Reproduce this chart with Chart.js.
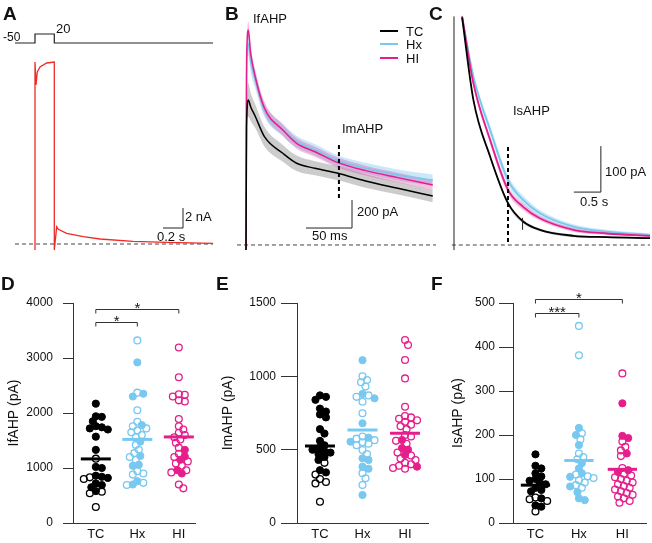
<!DOCTYPE html>
<html>
<head>
<meta charset="utf-8">
<script src="https://cdn.jsdelivr.net/npm/chart.js@4.4.1/dist/chart.umd.min.js"></script>
<style>
html, body { margin: 0; padding: 0; background: #fff; }
#fig { position: relative; width: 652px; height: 543px; overflow: hidden; font-family: "Liberation Sans", Arial, Helvetica, sans-serif; color: #111; }
#fig canvas { position: absolute; left: 0; top: 0; pointer-events: none; }
.t { position: absolute; line-height: 1; white-space: nowrap; transform: translateY(-50%); font-size: 13px; }
.p { font-weight: bold; font-size: 19px; }
.sw { position: absolute; height: 2px; width: 18px; }
</style>
</head>
<body>
<div id="fig">
  <canvas id="cAv" width="652" height="543"></canvas>
  <canvas id="cAi" width="652" height="543"></canvas>
  <canvas id="cB" width="652" height="543"></canvas>
  <canvas id="cC" width="652" height="543"></canvas>
  <canvas id="cD" width="652" height="543"></canvas>
  <canvas id="cE" width="652" height="543"></canvas>
  <canvas id="cF" width="652" height="543"></canvas>

  <div class="t p" style="left:3px;top:13px">A</div>
  <div class="t p" style="left:225px;top:13px">B</div>
  <div class="t p" style="left:429px;top:13px">C</div>
  <div class="t p" style="left:1px;top:283px">D</div>
  <div class="t p" style="left:216px;top:283px">E</div>
  <div class="t p" style="left:431px;top:283px">F</div>

  <div class="t" style="left:3px;top:37px;font-size:12px">-50</div>
  <div class="t" style="left:56px;top:28px">20</div>
  <div class="t" style="left:185px;top:216px">2 nA</div>
  <div class="t" style="left:157px;top:236px">0.2 s</div>

  <div class="t" style="left:253px;top:18px">IfAHP</div>
  <div class="sw" style="left:380px;top:30px;background:#000"></div>
  <div class="sw" style="left:380px;top:43px;background:#78c8f0"></div>
  <div class="sw" style="left:380px;top:57px;background:#e61e8c"></div>
  <div class="t" style="left:406px;top:31px">TC</div>
  <div class="t" style="left:406px;top:44px">Hx</div>
  <div class="t" style="left:406px;top:58px">HI</div>
  <div class="t" style="left:342px;top:128px">ImAHP</div>
  <div class="t" style="left:357px;top:211px">200 pA</div>
  <div class="t" style="left:312px;top:235px">50 ms</div>

  <div class="t" style="left:513px;top:110px">IsAHP</div>
  <div class="t" style="left:605px;top:171px">100 pA</div>
  <div class="t" style="left:580px;top:201px">0.5 s</div>
</div>
<script>
// ---- data ----
const groups = ['TC', 'Hx', 'HI'];

// A: command step (mV) and evoked current (nA), time in s
const stepTime = [0, 0.2, 0.2, 0.393, 0.393, 1.98];
const stepMv = [-50, -50, 20, 20, -50, -50];
const traceTime = [0.2, 0.2, 0.21, 0.223, 0.25, 0.317, 0.393, 0.393, 0.417, 0.433, 0.517, 0.683, 0.85, 1.18, 1.517, 1.98];
const traceNa = [-0.6, 18.2, 15.9, 17.2, 17.7, 18.1, 18.2, -0.6, 1.73, 1.47, 1.07, 0.73, 0.5, 0.27, 0.17, 0.07];

// B: average fast/medium AHP currents (pA), time in ms
const bTime = [0, 0.6, 2.5, 5, 10, 20, 40, 55, 75, 100, 130, 165, 203];
const bTC = [-36, 850, 1036, 988, 920, 774, 655, 584, 548, 512, 457, 405, 350];
const bHx = [-36, 1200, 1441, 1309, 1179, 964, 821, 738, 679, 600, 548, 500, 464];
const bHI = [-36, 1300, 1536, 1371, 1202, 979, 821, 726, 666, 588, 531, 481, 429];
const bTCsem = [0, 0, 120, 100, 85, 70, 60, 55, 50, 50, 48, 45, 45];
const bHxSem = [0, 0, 90, 75, 60, 50, 45, 42, 40, 40, 40, 40, 40];
const bHIsem = [0, 0, 60, 55, 50, 45, 40, 38, 36, 36, 35, 35, 35];

// C: average slow AHP currents (pA), time in s
const cTime = [0.15, 0.36, 0.67, 1.0, 1.28, 1.59, 2.21, 2.83, 3.63];
const cTC = [495, 315, 192, 91, 51, 33, 20, 17, 15];
const cHx = [497, 366, 250, 141, 98, 69, 40, 29, 22];
const cHI = [497, 351, 228, 120, 83, 58, 33, 25, 20];
const cTCsem = [3, 3, 4, 5, 4, 3, 3, 2, 2];
const cHxSem = [8, 8, 10, 10, 9, 7, 5, 4, 3];
const cHIsem = [6, 6, 8, 8, 7, 5, 4, 3, 3];

// D: IfAHP (pA)
const dTCFilled = [2170, 1940, 1930, 1850, 1760, 1740, 1720, 1700, 1570, 1330, 1020, 1000, 860, 840, 820, 720, 690, 650, 580];
const dTCOpen = [1170, 830, 800, 570, 540, 290];
const dHxFilled = [2920, 2350, 2300, 1780, 1480, 1220, 1060, 1040, 760, 700];
const dHxOpen = [3320, 2370, 2050, 1840, 1760, 1720, 1680, 1650, 1600, 1560, 1420, 1330, 1270, 1200, 1150, 940, 900, 880, 730, 690];
const dHIFilled = [1330, 1210, 1150, 960, 900];
const dHIOpen = [3190, 2650, 2340, 2330, 2300, 2230, 2210, 1890, 1760, 1700, 1640, 1600, 1560, 1520, 1460, 1370, 1260, 1200, 1120, 1080, 1040, 960, 920, 700, 630];
const dMeans = [1165, 1520, 1565];

// E: ImAHP (pA)
const eTCFilled = [870, 860, 840, 780, 760, 740, 720, 640, 610, 560, 530, 510, 500, 490, 480, 470, 450, 430, 360, 345];
const eTCOpen = [410, 330, 300, 280, 270, 145];
const eHxFilled = [1110, 880, 850, 680, 582, 554, 441, 430, 384, 370, 191];
const eHxOpen = [1000, 975, 960, 930, 870, 860, 827, 748, 590, 575, 565, 550, 540, 530, 498, 470, 340, 305, 259];
const eHIFilled = [566, 511, 500, 464, 384];
const eHIOpen = [1248, 1214, 1111, 986, 793, 730, 720, 710, 700, 690, 670, 660, 640, 600, 590, 560, 540, 480, 460, 440, 430, 410, 400, 390, 375, 370];
const eMeans = [525, 634, 612];

// F: IsAHP (pA)
const fTCFilled = [156, 130, 124, 113, 106, 100, 96, 92, 88, 80, 75, 72, 56, 40, 37];
const fTCOpen = [58, 54, 50, 26];
const fHxFilled = [216, 200, 177, 136, 124, 113, 105, 83, 70, 56, 52];
const fHxOpen = [448, 381, 204, 190, 158, 150, 145, 110, 106, 102, 97, 92, 86, 80];
const fHIFilled = [272, 198, 193, 158, 120, 116];
const fHIOpen = [340, 185, 173, 165, 152, 125, 112, 108, 104, 100, 96, 92, 88, 84, 80, 76, 72, 68, 64, 60, 56, 50, 46];
const fMeans = [86, 142, 122];

// ---- styling and helpers ----
const W = 652, H = 543;
const colors = ['#000000', '#78c8f0', '#e61e8c'];
const bands = ['rgba(110,110,110,0.35)', 'rgba(120,200,240,0.4)', 'rgba(230,30,140,0.28)'];

Chart.defaults.font.family = '"Liberation Sans", Arial, Helvetica, sans-serif';
Chart.defaults.color = '#111';
Chart.defaults.animation = false;
Chart.defaults.responsive = false;
Chart.defaults.events = [];
Chart.defaults.plugins.legend.display = false;
Chart.defaults.plugins.tooltip.enabled = false;

function xy(xs, ys) { return xs.map((x, i) => ({ x: x, y: ys[i] })); }

// layout padding that makes the chart area exactly [l..r] x [t..b]
function areaPad(l, t, r, b) { return { left: l, top: t, right: W - r, bottom: H - b }; }

function hiddenScales(xmin, xmax, ymin, ymax) {
    return {
        x: { type: 'linear', display: false, min: xmin, max: xmax },
        y: { type: 'linear', display: false, min: ymin, max: ymax }
    };
}

function line(points, color, width, extra) {
    return Object.assign({
        type: 'line', data: points, borderColor: color, borderWidth: width,
        pointRadius: 0, tension: 0, fill: false, clip: false
    }, extra || {});
}

function band(xs, mean, sem, color) {
    return [
        line(xy(xs, mean.map((m, i) => m + sem[i])), 'rgba(0,0,0,0)', 0, { cubicInterpolationMode: 'monotone', clip: true }),
        line(xy(xs, mean.map((m, i) => m - sem[i])), 'rgba(0,0,0,0)', 0, { cubicInterpolationMode: 'monotone', clip: true, fill: '-1', backgroundColor: color })
    ];
}

// first item in list is drawn at the bottom
function stack(list) { list.forEach((d, i) => { d.order = list.length - i; }); return list; }

const dashed = { borderDash: [4, 3] };

// ---- A ----
new Chart(document.getElementById('cAv'), {
    type: 'line',
    data: { datasets: stack([line(xy(stepTime, stepMv), '#222', 1.2)]) },
    options: { layout: { padding: areaPad(15, 34, 213, 43) }, scales: hiddenScales(0, 1.98, -50, 20) }
});

const aBarT = [1.48, 1.68, 1.68], aBarV = [1.6, 1.6, 3.6];
new Chart(document.getElementById('cAi'), {
    type: 'line',
    data: { datasets: stack([
        line(xy([0, 1.98], [0, 0]), '#444', 1, dashed),
        line(xy(traceTime, traceNa), '#ee2b25', 1.3),
        line(xy(aBarT, aBarV), '#222', 1)
    ]) },
    options: { layout: { padding: areaPad(15, 60, 213, 250) }, scales: hiddenScales(0, 1.98, -0.6, 18.4) }
});

// ---- B ----
const curve = { cubicInterpolationMode: 'monotone', clip: true };
const bBarT = [65.2, 115.2, 115.2], bBarV = [121, 121, 321];
new Chart(document.getElementById('cB'), {
    type: 'line',
    data: { datasets: stack([
        line(xy([-9.8, 206.5], [0, 0]), '#444', 1, dashed),
        ...band(bTime, bTC, bTCsem, bands[0]),
        ...band(bTime, bHx, bHxSem, bands[1]),
        ...band(bTime, bHI, bHIsem, bands[2]),
        line(xy(bTime, bHx), colors[1], 1.5, curve),
        line(xy(bTime, bHI), colors[2], 1.5, curve),
        line(xy(bTime, bTC), colors[0], 1.5, curve),
        line(xy([101, 101], [336, 729]), '#000', 2, dashed),
        line(xy(bBarT, bBarV), '#222', 1)
    ]) },
    options: { layout: { padding: areaPad(237, 15, 436, 250) }, scales: hiddenScales(-9.8, 206.5, -36, 1643) }
});

// ---- C ----
const cBarT = [2.22, 2.72, 2.72], cBarV = [115, 115, 215];
new Chart(document.getElementById('cC'), {
    type: 'line',
    data: { datasets: stack([
        line(xy([-0.04, 3.63], [0, 0]), '#444', 1, dashed),
        line(xy([0, 0], [-10.9, 497]), '#222', 1),
        ...band(cTime, cTC, cTCsem, bands[0]),
        ...band(cTime, cHx, cHxSem, bands[1]),
        ...band(cTime, cHI, cHIsem, bands[2]),
        line(xy(cTime, cHx), colors[1], 1.8, curve),
        line(xy(cTime, cHI), colors[2], 1.8, curve),
        line(xy(cTime, cTC), colors[0], 1.8, curve),
        line(xy([1.27, 1.27], [33, 59]), '#222', 1),
        line(xy([1.0, 1.0], [6.5, 217]), '#000', 2, dashed),
        line(xy(cBarT, cBarV), '#222', 1)
    ]) },
    options: { layout: { padding: areaPad(450, 15, 650, 250) }, scales: hiddenScales(-0.074, 3.63, -10.9, 500) }
});

// ---- D / E / F scatter panels ----
const GAP = 5.5;   // px between point centres in the swarm

function swarm(filled, open, center, pxX, pxY) {
    const pts = filled.map(v => ({ v: v, f: true })).concat(open.map(v => ({ v: v, f: false })));
    pts.sort((a, b) => b.v - a.v);
    const placed = [];
    const out = { filled: [], open: [] };
    pts.forEach(p => {
        const py = p.v * pxY;
        let off = 0;
        for (let k = 0; k < 80; k++) {
            const o = k === 0 ? 0 : (k % 2 ? 1 : -1) * Math.ceil(k / 2) * 1.5;
            if (placed.every(q => Math.hypot(o - q.o, py - q.py) >= GAP)) { off = o; break; }
        }
        placed.push({ o: off, py: py });
        (p.f ? out.filled : out.open).push({ x: center + off / pxX, y: p.v });
    });
    return out;
}

const bracketPlugin = {
    id: 'brackets',
    afterDatasetsDraw(chart, args, opts) {
        if (!opts.items) return;
        const ctx = chart.ctx, sx = chart.scales.x, sy = chart.scales.y;
        ctx.save();
        ctx.strokeStyle = '#333';
        ctx.lineWidth = 1;
        ctx.fillStyle = '#111';
        ctx.font = '15px "Liberation Sans", Arial, sans-serif';
        ctx.textAlign = 'center';
        opts.items.forEach(b => {
            const x1 = sx.getPixelForValue(b.from), x2 = sx.getPixelForValue(b.to);
            const py = Math.round(sy.getPixelForValue(b.at)) + 0.5;
            ctx.beginPath();
            ctx.moveTo(x1, py + 4); ctx.lineTo(x1, py); ctx.lineTo(x2, py); ctx.lineTo(x2, py + 4);
            ctx.stroke();
            ctx.fillText(b.label, (x1 + x2) / 2, py + 3);
        });
        ctx.restore();
    }
};

function scatterPanel(id, p) {
    const areaTop = 303, areaBottom = 523;
    const pxX = (p.right - p.axisX) / (p.xmax - p.xmin);
    const pxY = (areaBottom - areaTop) / p.ymax;
    const hw = 15 / pxX;
    const sets = [];
    for (let g = 0; g < 3; g++) {
        const s = swarm(p.filled[g], p.open[g], g + 1, pxX, pxY);
        sets.push({ type: 'scatter', data: s.filled, pointRadius: 3.6, pointBorderWidth: 1,
            borderColor: colors[g], backgroundColor: colors[g], clip: false });
        sets.push({ type: 'scatter', data: s.open, pointRadius: 3.4, pointBorderWidth: 1.3,
            borderColor: colors[g], backgroundColor: 'rgba(255,255,255,0)', clip: false });
    }
    p.means.forEach((m, g) => sets.push(line(xy([g + 1 - hw, g + 1 + hw], [m, m]), colors[g], 3)));

    new Chart(document.getElementById(id), {
        type: 'scatter',
        data: { datasets: stack(sets) },
        plugins: [bracketPlugin],
        options: {
            layout: { padding: { left: p.padLeft, top: areaTop, right: W - p.right, bottom: 0 } },
            plugins: { brackets: { items: p.brackets || [] } },
            scales: {
                x: {
                    type: 'linear', min: p.xmin, max: p.xmax,
                    afterBuildTicks: s => { s.ticks = groups.map((g, i) => ({ value: i + 1 })); },
                    ticks: { callback: v => groups[v - 1] || '', color: '#111', font: { size: 13 }, padding: 4, maxRotation: 0, autoSkip: false },
                    grid: { display: false, drawTicks: false },
                    border: { display: true, color: '#333', width: 1 },
                    afterFit: s => { s.height = H - areaBottom; }
                },
                y: {
                    type: 'linear', position: 'left', min: 0, max: p.ymax,
                    ticks: { stepSize: p.step, callback: v => String(v), color: '#111', font: { size: 12 }, padding: p.tickPad },
                    grid: { display: true, drawOnChartArea: false, drawTicks: true, tickLength: p.tickLen, color: '#333', lineWidth: 1 },
                    border: { display: true, color: '#333', width: 1 },
                    title: { display: true, text: p.title, color: '#111', font: { size: 14 }, padding: { top: 4, bottom: 4 } },
                    afterFit: s => { s.width = p.axisX - p.padLeft; }
                }
            }
        }
    });
}

scatterPanel('cD', {
    padLeft: 2, axisX: 73, right: 195, xmin: 0.45, xmax: 3.39,
    ymax: 4000, step: 1000, title: 'IfAHP (pA)', tickLen: 10, tickPad: 10,
    filled: [dTCFilled, dHxFilled, dHIFilled], open: [dTCOpen, dHxOpen, dHIOpen], means: dMeans,
    brackets: [{ from: 1, to: 3, at: 3890, label: '*' }, { from: 1, to: 2, at: 3650, label: '*' }]
});

scatterPanel('cE', {
    padLeft: 216, axisX: 297, right: 428, xmin: 0.46, xmax: 3.54,
    ymax: 1500, step: 500, title: 'ImAHP (pA)', tickLen: 16, tickPad: 5,
    filled: [eTCFilled, eHxFilled, eHIFilled], open: [eTCOpen, eHxOpen, eHIOpen], means: eMeans
});

scatterPanel('cF', {
    padLeft: 446, axisX: 513, right: 650, xmin: 0.483, xmax: 3.56,
    ymax: 500, step: 100, title: 'IsAHP (pA)', tickLen: 14, tickPad: 4,
    filled: [fTCFilled, fHxFilled, fHIFilled], open: [fTCOpen, fHxOpen, fHIOpen], means: fMeans,
    brackets: [{ from: 1, to: 3, at: 509, label: '*' }, { from: 1, to: 2, at: 477, label: '***' }]
});
</script>
</body>
</html>
